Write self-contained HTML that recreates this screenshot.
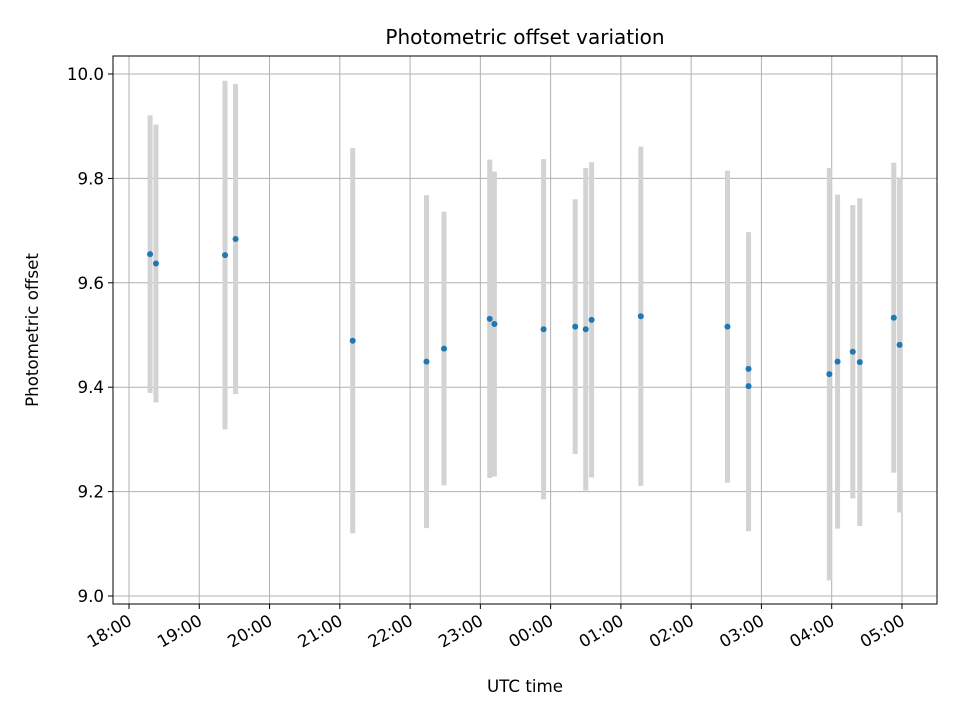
<!DOCTYPE html>
<html><head><meta charset="utf-8"><style>
body{margin:0;background:#fff;}
svg text{font-family:"DejaVu Sans","Liberation Sans",sans-serif;fill:#000;}
</style></head><body>
<svg id="chart" width="960" height="720" xmlns="http://www.w3.org/2000/svg">
<rect width="960" height="720" fill="#fff"/>
<g id="grid"></g>
<g id="bars"></g>
<g id="pts"></g>
<rect x="113" y="56" width="824" height="548" fill="none" stroke="#000" stroke-width="1"/>
<g id="ticks"></g>
<text x="525" y="44" font-size="20" text-anchor="middle">Photometric offset variation</text>
<text x="525" y="692" font-size="16.7" text-anchor="middle">UTC time</text>
<text x="38" y="330" font-size="16.7" text-anchor="middle" transform="rotate(-90 38 330)">Photometric offset</text>
</svg>
<script>
const times=["18:18","18:23","19:22","19:31","21:11","22:14","22:29","23:08","23:12","23:54","00:21","00:30","00:35","01:17","02:31","02:49","02:49","03:58","04:05","04:18","04:24","04:53","04:58"];
const values=[9.655,9.637,9.653,9.684,9.489,9.449,9.474,9.531,9.521,9.511,9.516,9.511,9.529,9.536,9.516,9.435,9.402,9.425,9.449,9.468,9.448,9.533,9.481];
const errors=[0.266,0.266,0.334,0.297,0.369,0.319,0.262,0.305,0.292,0.326,0.244,0.309,0.302,0.325,0.299,0.262,0.278,0.395,0.320,0.281,0.314,0.297,0.321];
const xTickLabels=["18:00","19:00","20:00","21:00","22:00","23:00","00:00","01:00","02:00","03:00","04:00","05:00"];
const yTickValues=[9.0,9.2,9.4,9.6,9.8,10.0];
const NS="http://www.w3.org/2000/svg";
function hrs(s){let [h,m]=s.split(":").map(Number);if(h<12)h+=24;return h+m/60-18;}
function xs(h){return 129+h*70.27;}
function ys(v){return 74+(10-v)*522;}
function mk(t,a,p){const e=document.createElementNS(NS,t);for(const k in a)e.setAttribute(k,a[k]);p.appendChild(e);return e;}
const G=document.getElementById('grid'),B=document.getElementById('bars'),P=document.getElementById('pts'),T=document.getElementById('ticks');
xTickLabels.forEach((l,i)=>{const x=xs(i);
 let g=mk('line',{x1:x,x2:x,y1:56,y2:604,stroke:'#b0b0b0','stroke-width':1},G);
 
 mk('line',{x1:x,x2:x,y1:604,y2:609,stroke:'#000'},T);
 let t=mk('text',{x:x+4,y:624,'font-size':16.7,'text-anchor':'end',transform:`rotate(-30 ${x+4} 624)`},T);
 t.textContent=l;
});
yTickValues.forEach(v=>{const y=ys(v);
 let g=mk('line',{x1:113,x2:937,y1:y,y2:y,stroke:'#b0b0b0','stroke-width':1},G);
 
 mk('line',{x1:108,x2:113,y1:y,y2:y,stroke:'#000'},T);
 let t=mk('text',{x:104,y:y+6,'font-size':16.7,'text-anchor':'end'},T);
 t.textContent=v.toFixed(1);
});
times.forEach((s,i)=>{const x=xs(hrs(s));
 let b=mk('line',{x1:x,x2:x,y1:ys(values[i]+errors[i]),y2:ys(values[i]-errors[i]),stroke:'#d3d3d3','stroke-width':5},B);
 
});
times.forEach((s,i)=>{const x=xs(hrs(s));
 let c=mk('circle',{cx:x,cy:ys(values[i]),r:3,fill:'#1f77b4'},P);
 
});
</script>
</body></html>
